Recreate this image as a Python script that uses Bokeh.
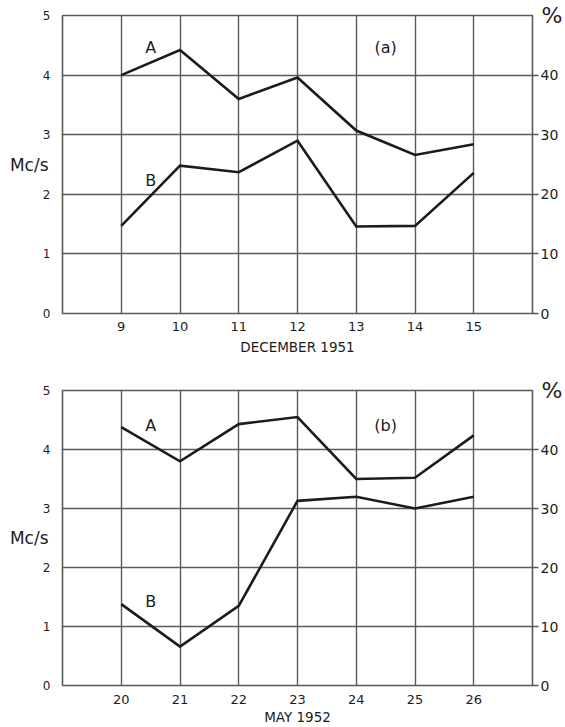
from bokeh.plotting import figure
from bokeh.layouts import column
from bokeh.models import (Range1d, LinearAxis, FixedTicker, Label, ColumnDataSource)
from bokeh.embed import file_html
from bokeh.resources import INLINE

# ---- data ----
dec_days = [9, 10, 11, 12, 13, 14, 15]
dec_A = [4.0, 4.42, 3.6, 3.96, 3.07, 2.66, 2.84]
dec_B = [1.47, 2.48, 2.37, 2.9, 1.46, 1.47, 2.36]

may_days = [20, 21, 22, 23, 24, 25, 26]
may_A = [4.38, 3.8, 4.43, 4.55, 3.5, 3.52, 4.24]
may_B = [1.38, 0.66, 1.35, 3.13, 3.2, 3.0, 3.2]

mcs_ticks = [0, 1, 2, 3, 4, 5]
pct_ticks = [0, 10, 20, 30, 40]

FONT = "DejaVu Sans"
INK = "#1c1c1c"
GRID = "#5a5a5a"


def make_panel(days, a_vals, b_vals, xlabel, height, top, bottom, tick_standoff, label_standoff):
    x0, x1 = days[0] - 1, days[-1] + 1
    p = figure(width=565, height=height, x_range=Range1d(x0, x1), y_range=Range1d(0, 5),
               output_backend="svg", toolbar_location=None,
               min_border_left=62, min_border_right=28,
               min_border_top=top, min_border_bottom=bottom,
               background_fill_color="white", border_fill_color="white")
    p.outline_line_color = GRID
    p.outline_line_width = 1.6

    # grid
    p.xgrid.ticker = FixedTicker(ticks=days)
    p.ygrid.ticker = FixedTicker(ticks=[1, 2, 3, 4])
    for g in (p.xgrid, p.ygrid):
        g.grid_line_color = GRID
        g.grid_line_width = 1.4

    # bottom axis
    xa = p.xaxis[0]
    xa.ticker = FixedTicker(ticks=days)
    xa.axis_line_color = None
    xa.major_tick_line_color = None
    xa.minor_tick_line_color = None
    xa.major_tick_out = 0
    xa.major_label_standoff = tick_standoff
    xa.major_label_text_font = FONT
    xa.major_label_text_font_size = "13px"
    xa.major_label_text_color = INK
    xa.axis_label = xlabel
    xa.axis_label_standoff = label_standoff
    xa.axis_label_text_font = FONT
    xa.axis_label_text_font_size = "13.5px"
    xa.axis_label_text_font_style = "normal"
    xa.axis_label_text_color = INK

    # left axis
    ya = p.yaxis[0]
    ya.ticker = FixedTicker(ticks=mcs_ticks)
    ya.bounds = (-0.2, 5)
    ya.axis_line_color = None
    ya.major_tick_line_color = None
    ya.minor_tick_line_color = None
    ya.major_tick_out = 0
    ya.major_label_standoff = 12
    ya.major_label_text_font = FONT
    ya.major_label_text_font_size = "12px"
    ya.major_label_text_color = INK
    ya.axis_label = "Mc/s"
    ya.axis_label_orientation = "horizontal"
    ya.axis_label_standoff_mode = "axis"
    ya.axis_label_standoff = 14
    ya.axis_label_text_font = FONT
    ya.axis_label_text_font_size = "17px"
    ya.axis_label_text_font_style = "normal"
    ya.axis_label_text_color = INK

    # right axis (percent)
    p.extra_y_ranges = {"pct": Range1d(0, 50)}
    ra = LinearAxis(y_range_name="pct", ticker=FixedTicker(ticks=pct_ticks))
    ra.bounds = (0, 48.8)
    ra.axis_line_color = None
    ra.major_tick_line_color = GRID
    ra.major_tick_line_width = 1.4
    ra.major_tick_out = 6
    ra.major_tick_in = 0
    ra.minor_tick_line_color = None
    ra.major_label_standoff = 2
    ra.major_label_text_font = FONT
    ra.major_label_text_font_size = "14px"
    ra.major_label_text_color = INK
    ra.axis_label = "%"
    ra.axis_label_orientation = "horizontal"
    ra.axis_label_standoff_mode = "axis"
    ra.axis_label_standoff = 9
    ra.axis_label_align = "end"
    ra.axis_label_text_font = FONT
    ra.axis_label_text_font_size = "22px"
    ra.axis_label_text_font_style = "normal"
    ra.axis_label_text_color = INK
    p.add_layout(ra, "right")

    # data lines
    src = ColumnDataSource(dict(x=days, a=a_vals, b=b_vals))
    p.line("x", "a", source=src, line_color=INK, line_width=2.6, line_join="miter")
    p.line("x", "b", source=src, line_color=INK, line_width=2.6, line_join="miter")
    return p


p1 = make_panel(dec_days, dec_A, dec_B, "DECEMBER 1951", 358, 15, 45, 8, 5)
p2 = make_panel(may_days, may_A, may_B, "MAY 1952", 369, 32, 42, 9, 2)

lab_style = dict(text_font=FONT, text_color=INK, text_align="center",
                 text_baseline="middle", text_font_size="16px")

p1.add_layout(Label(x=9.5, y=4.46, text="A", **lab_style))
p1.add_layout(Label(x=9.5, y=2.23, text="B", **lab_style))
p1.add_layout(Label(x=13.5, y=4.46, text="(a)", **lab_style))
p2.add_layout(Label(x=20.5, y=4.41, text="A", **lab_style))
p2.add_layout(Label(x=20.5, y=1.43, text="B", **lab_style))
p2.add_layout(Label(x=24.5, y=4.41, text="(b)", **lab_style))

layout = column(p1, p2, spacing=0)
open("out.html", "w").write(file_html(layout, INLINE))
